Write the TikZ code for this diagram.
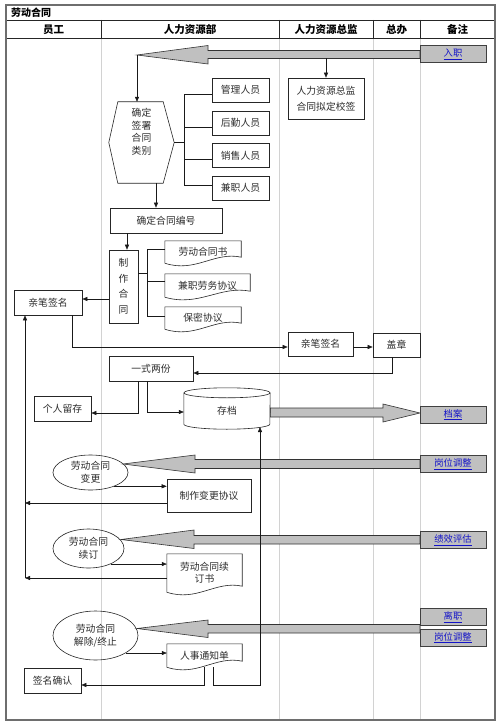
\documentclass[tikz,border=0pt]{standalone}
\usepackage{fontspec}
\setmainfont{Noto Sans CJK SC}
\usetikzlibrary{arrows.meta,shapes.geometric,calc}
\definecolor{lanec}{RGB}{210,210,210}
\definecolor{notefill}{RGB}{192,192,192}
\definecolor{linkblue}{RGB}{20,20,200}
\definecolor{framec}{RGB}{110,110,110}
\definecolor{txt}{RGB}{45,45,45}
\newcommand\bodyf{\fontsize{9.8}{12.5}\selectfont\color{txt}}
\newcommand\linkf{\fontsize{9.3}{11}\selectfont}
\newcommand\headf{\fontsize{10.5}{12}\selectfont\bfseries}
\newcommand\lnk[1]{\textcolor{linkblue}{\underline{#1}}}
\newcommand\docpath[1]{%
  \draw[docln] (#1.south west) -- (#1.north west) -- (#1.north east) -- ([yshift=6pt]#1.south east)
   .. controls ($(#1.south east)!0.35!(#1.south west)+(0pt,12pt)$) and ($(#1.south west)!0.4!(#1.south east)+(0pt,-10pt)$) .. (#1.south west) -- cycle;}
\begin{document}
\begin{tikzpicture}[x=1pt,y=-1pt,
  box/.style={draw=black!85, line width=0.6pt, fill=white, inner sep=0pt, align=center, font=\bodyf},
  plain/.style={inner sep=0pt, align=center, font=\bodyf},
  docln/.style={draw=black!85, line width=0.6pt},
  ell/.style={ellipse, draw=black!85, line width=0.6pt, inner sep=0pt, align=center, font=\bodyf},
  note/.style={draw=black!75, fill=notefill, line width=1pt, minimum width=66pt, minimum height=17pt, inner sep=0pt, font=\linkf},
  ln/.style={draw=black!90, line width=0.5pt},
  arr/.style={ln, -{Triangle[length=5pt,width=4pt]}},
  bigarr/.style={fill=notefill, draw=black!80, line width=0.6pt, line join=miter}]
\useasboundingbox (0,0) rectangle (499,722);
\fill[white] (0,0) rectangle (499,722);
% lanes
\foreach \xx in {101,279,373,420} \draw[lanec, line width=0.6pt] (\xx,38) -- (\xx,720);
\draw[black!85, line width=0.8pt] (6,20) -- (495,20) (6,38) -- (495,38);
\foreach \xx in {101,279,373,420} \draw[black!85, line width=0.8pt] (\xx,20) -- (\xx,38);
\draw[framec, line width=1.2pt] (6,5) rectangle (495,720);
\node[anchor=west, font=\fontsize{10}{12}\selectfont\bfseries, inner sep=0pt] (title) at (11,12.5) {劳动合同};
\node[font=\headf] (h1) at (53.5,29.5) {员工};
\node[font=\headf] (h2) at (190,29.5) {人力资源部};
\node[font=\headf] (h3) at (326,29.5) {人力资源总监};
\node[font=\headf] (h4) at (396.5,29.5) {总办};
\node[font=\headf] (h5) at (457.5,29.5) {备注};

\coordinate (ruw) at (420,54.5);
% big arrow 1
\path[bigarr] (137,55) -- (208,45.5) -- (208,50.5) -- (ruw |- 0,50.5) -- (ruw |- 0,58.5) -- (208,58.5) -- (208,64) -- cycle;
\node[note] (ru) at (453,54.5) {\lnk{入职}};
\coordinate (t1) at (137,55);
\coordinate (d1) at (326,58.5);

\node[box, minimum width=76pt, minimum height=41pt, font=\fontsize{9.8}{16}\selectfont\color{txt}] (dir) at (326,98.5) {人力资源总监\\合同拟定校签};
\draw[arr] (d1) -- (dir.north);

% hexagon
\node[minimum width=65pt, minimum height=81pt, inner sep=0pt] (hex) at (141.5,142.5) {};
\draw[docln] ([xshift=9pt]hex.north west) -- ([xshift=-11pt]hex.north east) -- (hex.east) -- ([xshift=-11pt]hex.south east) -- ([xshift=9pt]hex.south west) -- (hex.west) -- cycle;
\node[plain] (hext) at (141.5,132) {确定\\签署\\合同\\类别};
\draw[arr] (t1) -- (137,0 |- hex.north);

\node[box, minimum width=57pt, minimum height=24pt] (gl) at (240.5,90) {管理人员};
\node[box, minimum width=57pt, minimum height=24pt] (hq) at (240.5,123) {后勤人员};
\node[box, minimum width=57pt, minimum height=24pt] (xs) at (240.5,155.5) {销售人员};
\node[box, minimum width=57pt, minimum height=24pt] (jz) at (240.5,188) {兼职人员};
\draw[ln] (hex.east) -- (184,0 |- hex.east);
\draw[ln] (gl.west |- 0,94) -- (184,94) -- (184,185) -- (jz.west |- 0,185);
\draw[ln] (184,127) -- (hq.west |- 0,127);
\draw[ln] (184,159) -- (xs.west |- 0,159);

\node[box, minimum width=112pt, minimum height=25pt] (bh) at (166,220.5) {确定合同编号};
\draw[arr] (156,0 |- hex.south) -- (156,0 |- bh.north);

\node[box, minimum width=29pt, minimum height=73pt, font=\fontsize{9.8}{15.5}\selectfont\color{txt}] (zz) at (123.5,286.5) {制\\作\\合\\同};
\draw[arr] (127,0 |- bh.south) -- (127,0 |- zz.north);

\node[plain, minimum width=76pt, minimum height=22pt] (ld) at (203,252) {劳动合同书};
\node[plain, minimum width=85pt, minimum height=23pt] (jw) at (207.5,285.5) {兼职劳务协议};
\node[plain, minimum width=76pt, minimum height=22pt] (bm) at (203,318) {保密协议};
\docpath{ld}\docpath{jw}\docpath{bm}
\draw[ln] (zz.east |- 0,273) -- (147,273);
\draw[ln] (ld.west |- 0,249) -- (147,249) -- (147,316) -- (bm.west |- 0,316);
\draw[ln] (147,281) -- (jw.west |- 0,281);

\node[box, minimum width=68pt, minimum height=25pt] (qm1) at (48,302.5) {亲笔签名};
\draw[arr] (zz.west |- 0,299) -- (qm1.east |- 0,299);

\node[box, minimum width=65pt, minimum height=24pt] (qm2) at (320.5,344) {亲笔签名};
\node[box, minimum width=47pt, minimum height=24pt] (gz) at (396.5,345) {盖章};
\draw[arr] (72,0 |- qm1.south) |- (qm2.west |- 0,347);
\draw[arr] (qm2.east |- 0,347) -- (gz.west |- 0,347);

\node[box, minimum width=84pt, minimum height=25pt] (ys) at (151,368.5) {一式两份};
\draw[arr] (392,0 |- gz.south) |- (ys.east |- 0,373);

\node[box, minimum width=57pt, minimum height=25pt] (gr) at (62.5,408.5) {个人留存};
\draw[arr] (138,0 |- ys.south) |- (gr.east |- 0,413);

% archive cylinder
\node[inner sep=0pt, minimum width=86pt, minimum height=41pt] (cd) at (227,408.5) {};
\coordinate (daw) at (420,413);
\path[bigarr] (cd.east |- 0,408) -- (383,408) -- (383,404) -- (daw) -- (383,422) -- (383,417) -- (cd.east |- 0,417) -- cycle;
\fill[white] ([yshift=-5pt]cd.north west) rectangle ([yshift=5pt]cd.south east);
\fill[white] ([yshift=5pt]cd.south) ellipse[x radius=43pt, y radius=5pt];
\draw[docln, fill=white] ([yshift=-5pt]cd.north) ellipse[x radius=43pt, y radius=5pt];
\draw[docln] ([yshift=-5pt]cd.north west) -- ([yshift=5pt]cd.south west) arc[start angle=180, end angle=360, x radius=43pt, y radius=5pt] -- ([yshift=-5pt]cd.north east);
\node[plain] (cdt) at (227,411) {存档};
\draw[arr] (147,0 |- ys.south) |- (cd.west |- 0,412);
\node[note] (da) at (453,414.5) {\lnk{档案}};

% left collector line
\coordinate (lb) at (25,578);
\draw[arr] (lb) -- (25,0 |- qm1.south);

% change
\node[ell, minimum width=75pt, minimum height=35pt] (e1) at (90.5,472.5) {劳动合同\\变更};
\coordinate (bg1w) at (420,464);
\path[bigarr] (123,464) -- (195,455) -- (195,459.5) -- (bg1w |- 0,459.5) -- (bg1w |- 0,468.5) -- (195,468.5) -- (195,473) -- cycle;
\node[note] (bg1) at (453,464) {\lnk{岗位调整}};
\node[box, minimum width=84pt, minimum height=33pt] (bg) at (209,495.5) {制作变更协议};
\draw[arr] (e1.-30) -- (bg.west |- e1.-30);
\draw[arr] (bg.west |- 0,503) -- (25,503);

% renew
\node[ell, minimum width=71pt, minimum height=39pt] (e2) at (88.5,548.5) {劳动合同\\续订};
\coordinate (jxw) at (420,540);
\path[bigarr] (121,539.5) -- (194,530) -- (194,535.5) -- (jxw |- 0,535.5) -- (jxw |- 0,544) -- (194,544) -- (194,548.5) -- cycle;
\node[note] (jx) at (453,540) {\lnk{绩效评估}};
\node[plain, minimum width=75pt, minimum height=38pt, font=\fontsize{9.8}{12}\selectfont\color{txt}] (xd) at (204.5,573) {劳动合同续\\订书};
\docpath{xd}
\draw[arr] (e2.-35) -- (xd.west |- e2.-35);
\draw[arr] (xd.west |- lb) -- (lb);

% terminate
\node[ell, minimum width=85pt, minimum height=49pt] (e3) at (95.5,635.5) {劳动合同\\解除/终止};
\coordinate (lzw) at (420,628.5);
\path[bigarr] (137,628.5) -- (208,620) -- (208,624.5) -- (lzw |- 0,624.5) -- (lzw |- 0,633) -- (208,633) -- (208,637.5) -- cycle;
\node[note] (lz) at (453,617) {\lnk{离职}};
\node[note] (bg2) at (453,637.5) {\lnk{岗位调整}};
\node[plain, minimum width=75pt, minimum height=23pt] (rs) at (204.5,655.5) {人事通知单};
\docpath{rs}
\draw[arr] (e3.-30) -- (rs.west |- e3.-30);
\node[box, minimum width=57pt, minimum height=25pt] (qr) at (52.5,680.5) {签名确认};
\draw[arr] (204,0 |- rs.south) |- (qr.east |- 0,685);
\draw[arr] (213,0 |- rs.south) |- (260,685) -- (260,427);
\end{tikzpicture}
\end{document}
